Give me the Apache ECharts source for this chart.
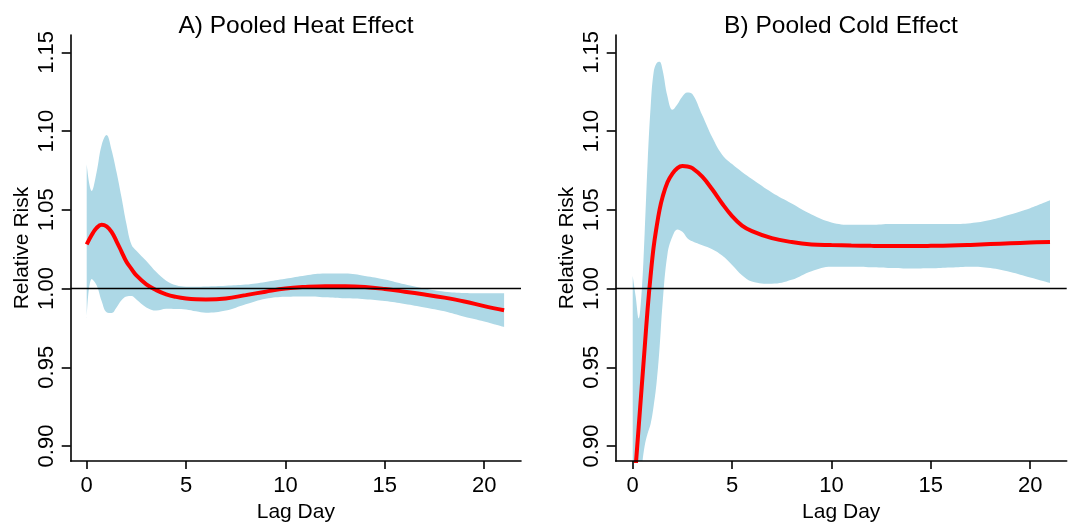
<!DOCTYPE html>
<html>
<head>
<meta charset="utf-8">
<script src="https://cdn.jsdelivr.net/npm/echarts@6/dist/echarts.min.js"></script>
<style>
  html, body { margin: 0; padding: 0; background: #fff; }
  #chart { width: 1072px; height: 528px; }
</style>
</head>
<body>
<div id="chart"></div>
<script>
// lag days and relative risks
var lagA = [0, 0.25, 0.5, 0.75, 1, 1.25, 1.5, 1.75, 2, 2.25, 2.5, 3, 3.5, 4, 4.5, 5, 5.5, 6, 7, 8, 9, 10, 11, 12, 13, 14, 15, 16, 17, 18, 19, 20, 21]
var heatRR = [1.028, 1.034, 1.0385, 1.0405, 1.0395, 1.036, 1.030, 1.0235, 1.017, 1.0125, 1.0083, 1.0027, 0.999, 0.9963, 0.9947, 0.9937, 0.9932, 0.9931, 0.9937, 0.9958, 0.998, 1.000, 1.001, 1.0015, 1.0015, 1.001, 0.9997, 0.998, 0.9962, 0.9942, 0.9918, 0.9888, 0.9862]
var heatLow = [0.981, 1.006, 1.002, 0.992, 0.985, 0.9845, 0.988, 0.9925, 0.995, 0.9952, 0.993, 0.988, 0.986, 0.9872, 0.987, 0.9867, 0.9855, 0.9846, 0.986, 0.990, 0.9935, 0.9948, 0.995, 0.9945, 0.9938, 0.9932, 0.992, 0.9902, 0.988, 0.9855, 0.982, 0.979, 0.9755]
var heatHigh = [1.079, 1.062, 1.074, 1.091, 1.0975, 1.088, 1.074, 1.058, 1.041, 1.028, 1.024, 1.0175, 1.0105, 1.005, 1.002, 1.0012, 1.0012, 1.0013, 1.0018, 1.0025, 1.0042, 1.0062, 1.0083, 1.0095, 1.0095, 1.008, 1.0058, 1.0027, 1.000, 0.998, 0.9972, 0.997, 0.997]

var lagB = [0, 0.15, 0.3, 0.45, 0.6, 0.75, 0.9, 1.05, 1.2, 1.35, 1.5, 1.75, 2, 2.25, 2.5, 2.75, 3, 3.5, 4, 4.5, 5, 5.5, 6, 7, 8, 9, 10, 11, 12, 13, 14, 15, 16, 17, 18, 19, 20, 21]
var coldRR = [0.862, 0.887, 0.912, 0.937, 0.962, 0.987, 1.008, 1.026, 1.039, 1.050, 1.058, 1.0675, 1.073, 1.0765, 1.0778, 1.0775, 1.0765, 1.071, 1.063, 1.054, 1.046, 1.040, 1.0365, 1.032, 1.0295, 1.028, 1.0276, 1.0273, 1.0271, 1.027, 1.027, 1.0271, 1.0273, 1.0277, 1.0282, 1.0287, 1.0292, 1.0296]
var coldLow = [0.80, 0.83, 0.86, 0.885, 0.90, 0.908, 0.914, 0.925, 0.94, 0.962, 0.99, 1.022, 1.033, 1.0375, 1.036, 1.032, 1.030, 1.0275, 1.025, 1.021, 1.015, 1.0085, 1.0045, 1.003, 1.0055, 1.011, 1.0138, 1.0138, 1.0135, 1.013, 1.0127, 1.0128, 1.0133, 1.0138, 1.013, 1.0105, 1.007, 1.0035]
var coldHigh = [1.008, 0.995, 0.981, 0.998, 1.035, 1.08, 1.115, 1.137, 1.143, 1.144, 1.139, 1.122, 1.1135, 1.117, 1.122, 1.1245, 1.1235, 1.110, 1.096, 1.085, 1.079, 1.074, 1.0695, 1.061, 1.054, 1.047, 1.042, 1.0405, 1.0405, 1.041, 1.041, 1.041, 1.041, 1.0415, 1.0435, 1.047, 1.051, 1.056]

var xTicks = [0, 5, 10, 15, 20]
var yTicks = [0.90, 0.95, 1.00, 1.05, 1.10, 1.15]
var titles = ['A) Pooled Heat Effect', 'B) Pooled Cold Effect']

var font = 'Liberation Sans, Arial, sans-serif'
var band = '#add8e6'

var myChart = echarts.init(document.getElementById('chart'))

function xAxis(idx, min, max) {
    return {
        gridIndex: idx,
        type: 'value',
        z: 5,
        min: min,
        max: max,
        name: 'Lag Day',
        nameLocation: 'middle',
        nameGap: 37,
        nameTextStyle: { fontSize: 21, color: '#000', fontFamily: font },
        axisLine: { onZero: false, lineStyle: { color: '#000', width: 1.6 } },
        axisTick: { customValues: xTicks, length: 8, lineStyle: { color: '#000', width: 1.6 } },
        axisLabel: { customValues: xTicks, fontSize: 22, color: '#000', fontFamily: font, margin: 14 },
        splitLine: { show: false }
    }
}

function yAxis(idx) {
    return {
        gridIndex: idx,
        type: 'value',
        z: 5,
        min: 0.8904,
        max: 1.161,
        name: 'Relative Risk',
        nameLocation: 'middle',
        nameGap: 38,
        nameTextStyle: { fontSize: 21, color: '#000', fontFamily: font },
        axisLine: { show: true, onZero: false, lineStyle: { color: '#000', width: 1.6 } },
        axisTick: { show: true, customValues: yTicks, length: 9, lineStyle: { color: '#000', width: 1.6 } },
        axisLabel: {
            customValues: yTicks,
            rotate: 90,
            fontSize: 22,
            color: '#000',
            fontFamily: font,
            margin: 13,
            formatter: function (v) { return v.toFixed(2) }
        },
        splitLine: { show: false }
    }
}

// confidence band as a stacked pair: lower limit (hidden) + width (filled)
// the value column comes first so that the stack runs on y, not on lag
function panelSeries(idx, lags, rr, low, high) {
    var st = 'ci' + idx
    return [{
        type: 'line',
        xAxisIndex: idx, yAxisIndex: idx,
        stack: st,
        encode: { x: 1, y: 0 },
        symbol: 'none',
        smooth: 0.4,
        silent: true,
        lineStyle: { width: 0 },
        data: lags.map(function (x, i) { return [low[i], x] })
    }, {
        type: 'line',
        xAxisIndex: idx, yAxisIndex: idx,
        stack: st,
        encode: { x: 1, y: 0 },
        symbol: 'none',
        smooth: 0.4,
        silent: true,
        lineStyle: { width: 0 },
        areaStyle: { color: band, opacity: 1 },
        data: lags.map(function (x, i) { return [high[i] - low[i], x] }),
        markLine: {
            silent: true,
            symbol: 'none',
            label: { show: false },
            lineStyle: { color: '#000', width: 1.3, type: 'solid' },
            data: [{ yAxis: 1 }]
        }
    }, {
        type: 'line',
        xAxisIndex: idx, yAxisIndex: idx,
        symbol: 'none',
        smooth: 0.4,
        silent: true,
        lineStyle: { color: '#ff0000', width: 4 },
        data: lags.map(function (x, i) { return [x, rr[i]] })
    }]
}

var option = {
    animation: false,
    backgroundColor: '#fff',
    title: [
        { text: titles[0], left: 291, top: 9, textAlign: 'center', textStyle: { fontSize: 24.5, fontWeight: 'normal', color: '#000', fontFamily: font } },
        { text: titles[1], left: 836, top: 9, textAlign: 'center', textStyle: { fontSize: 24.5, fontWeight: 'normal', color: '#000', fontFamily: font } }
    ],
    grid: [
        { left: 70.7, top: 35, width: 450.3, height: 436.7 },
        { left: 615.7, top: 35, width: 451, height: 436.7 }
    ],
    xAxis: [xAxis(0, -0.805, 21.85), xAxis(1, -0.856, 21.84)],
    yAxis: [yAxis(0), yAxis(1)],
    series: panelSeries(0, lagA, heatRR, heatLow, heatHigh).concat(panelSeries(1, lagB, coldRR, coldLow, coldHigh))
}

myChart.setOption(option)
</script>
</body>
</html>
